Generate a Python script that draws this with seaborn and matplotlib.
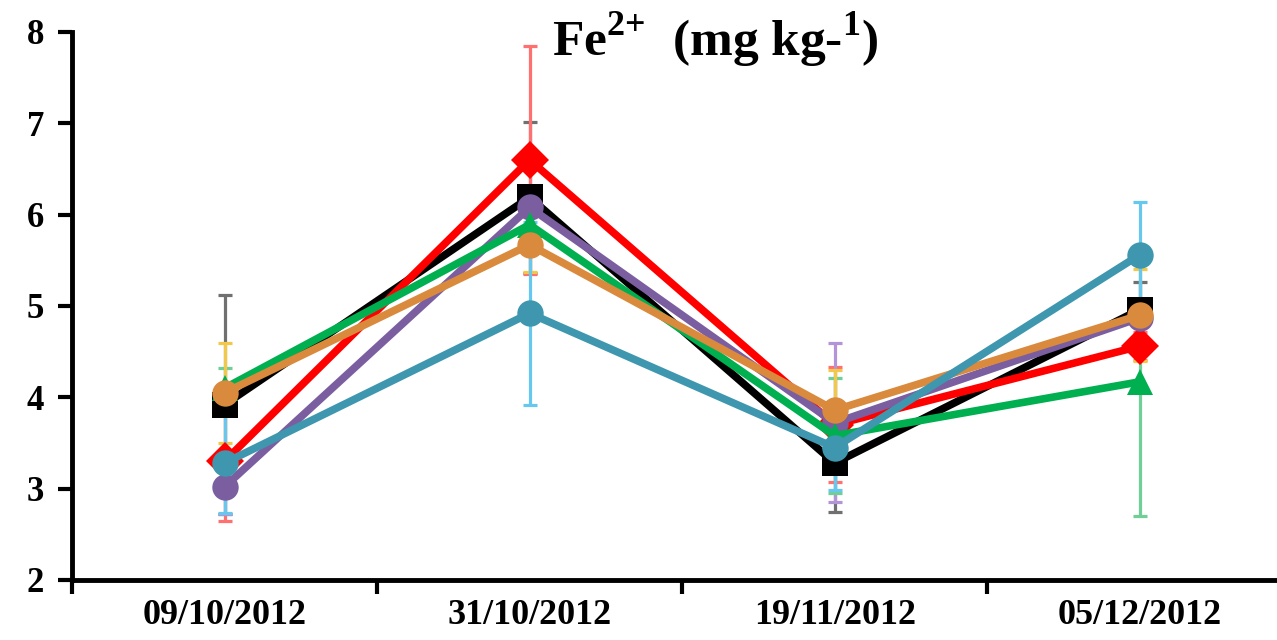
import numpy as np
import pandas as pd
import matplotlib
matplotlib.use('Agg')
import matplotlib.pyplot as plt
import seaborn as sns

# valores
dates = ['09/10/2012', '31/10/2012', '19/11/2012', '05/12/2012']
series = ['black', 'red', 'purple', 'green', 'orange', 'teal']

fe_black = [3.92, 6.19, 3.28, 4.96]
fe_red = [3.30, 6.60, 3.70, 4.56]
fe_purple = [3.02, 6.08, 3.72, 4.87]
fe_green = [4.10, 5.89, 3.58, 4.17]
fe_orange = [4.05, 5.67, 3.86, 4.90]
fe_teal = [3.28, 4.92, 3.45, 5.56]

sd_black = [1.20, 0.83, 0.54, 0.30]
sd_red = [0.65, 1.25, 0.63, 0.15]
sd_purple = [0.30, 0.22, 0.87, 0.10]
sd_green = [0.22, 0.30, 0.63, 1.47]
sd_orange = [0.55, 0.30, 0.44, 0.50]
sd_teal = [0.55, 1.00, 0.46, 0.58]

values = {'black': fe_black, 'red': fe_red, 'purple': fe_purple,
          'green': fe_green, 'orange': fe_orange, 'teal': fe_teal}
sds = {'black': sd_black, 'red': sd_red, 'purple': sd_purple,
       'green': sd_green, 'orange': sd_orange, 'teal': sd_teal}

line_colors = {'black': '#000000', 'red': '#FF0000', 'purple': '#7B5EA0',
               'green': '#00B050', 'orange': '#DA8A3C', 'teal': '#3E97AE'}
err_colors = {'black': '#707070', 'red': '#FF7070', 'purple': '#B394D8',
              'green': '#6FCF97', 'orange': '#F2C84B', 'teal': '#66C8EE'}
markers = {'black': 's', 'red': 'D', 'purple': 'o',
           'green': '^', 'orange': 'o', 'teal': 'o'}

sns.set_theme(style='white')
plt.rcParams['font.family'] = ['Liberation Serif', 'DejaVu Serif']
plt.rcParams['font.weight'] = 'bold'
plt.rcParams['text.color'] = 'black'
plt.rcParams['xtick.color'] = 'black'
plt.rcParams['ytick.color'] = 'black'
plt.rcParams['mathtext.fontset'] = 'custom'
plt.rcParams['mathtext.rm'] = 'Liberation Serif:bold'
plt.rcParams['mathtext.bf'] = 'Liberation Serif:bold'

df = pd.DataFrame([
    {'date': d, 'x': i, 'serie': s, 'fe': values[s][i]}
    for s in series for i, d in enumerate(dates)
])

fig = plt.figure(figsize=(12.77, 6.4), dpi=100)
ax = fig.add_axes([72 / 1277, 60 / 640, 1 - 72 / 1277, 548 / 640])

# barras de erro por baixo das linhas
for s in series:
    ax.errorbar(range(len(dates)), values[s], yerr=sds[s], fmt='none',
                ecolor=err_colors[s], elinewidth=2.3, capsize=5, capthick=2.3,
                zorder=1)

sns.lineplot(data=df, x='x', y='fe', hue='serie', style='serie',
             hue_order=series, style_order=series, palette=line_colors,
             markers=markers, dashes=False, linewidth=5.5, markersize=19,
             markeredgewidth=0, legend=False, ax=ax, zorder=2)

ax.set_xlim(-0.5, 3.45)
ax.set_ylim(2, 8)
ax.set_yticks(range(2, 9))
ax.set_xticks([-0.5, 0.5, 1.5, 2.5])
ax.set_xticklabels([])
ax.set_xticks(range(len(dates)), minor=True)
ax.set_xticklabels(dates, minor=True, fontsize=26, fontweight='bold')
ax.tick_params(axis='x', which='minor', bottom=False, length=0, pad=14)
ax.tick_params(axis='x', which='major', bottom=True, direction='out',
               length=10, width=3, color='black')
ax.tick_params(axis='y', left=True, direction='out', length=10, width=3,
               color='black', labelsize=25, pad=10)
for lab in ax.get_yticklabels():
    lab.set_fontweight('bold')
ax.set_xlabel('')
ax.set_ylabel('')

for side in ['top', 'right']:
    ax.spines[side].set_visible(False)
for side in ['left', 'bottom']:
    ax.spines[side].set_linewidth(3.5)
    ax.spines[side].set_color('black')

ax.text(0.534, 0.985, r'Fe$^{\mathbf{2{+}}}$  (mg kg-$^{\mathbf{1}}$)',
        transform=ax.transAxes, ha='center', va='center', fontsize=37,
        fontweight='bold')

fig.savefig('out.png', dpi=100)
